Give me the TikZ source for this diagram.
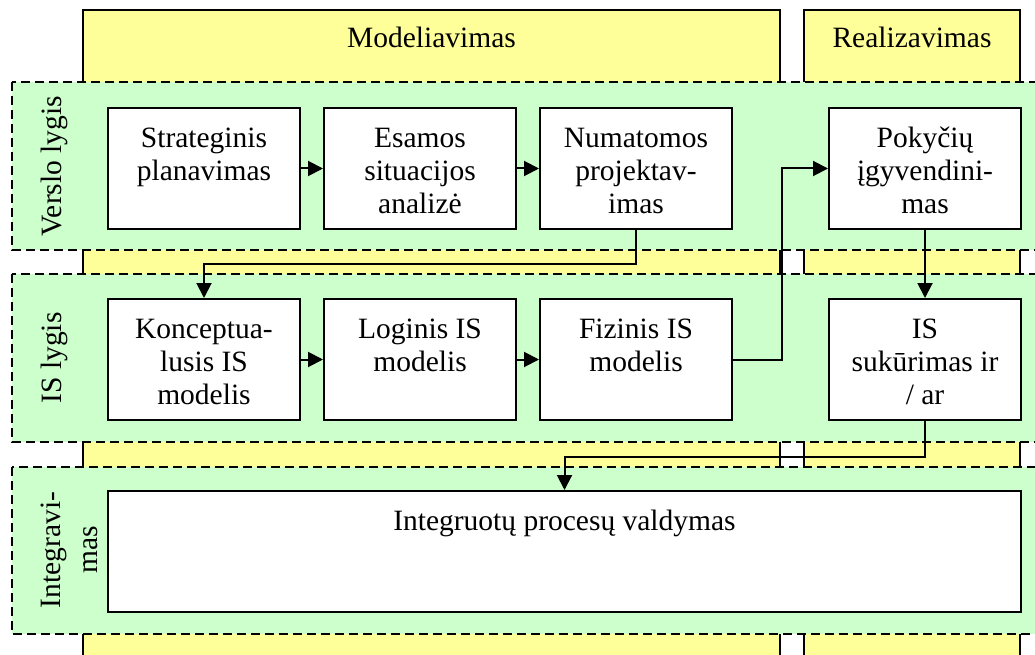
\documentclass[tikz,border=0pt]{standalone}
\usepackage{fontspec}
\setmainfont{Liberation Serif}
\usetikzlibrary{arrows.meta}
\definecolor{colyellow}{RGB}{255,255,153}
\definecolor{bandgreen}{RGB}{204,255,204}
\tikzset{
	column/.style={fill=colyellow, draw=black, line width=2pt},
	band/.style={fill=bandgreen, draw=black, line width=2pt, dash pattern=on 9pt off 5pt},
	stage/.style={draw, fill=white, line width=2pt, anchor=north west, inner sep=0pt, minimum width=192pt, minimum height=121pt},
	flow/.style={line width=2pt, -{Triangle[length=15pt,width=15pt]}},
	bandlabel/.style={rotate=90, align=center},
}
\newcommand{\stagetext}[2][192pt]{\parbox[t][121pt][t]{#1}{\centering\vspace*{16pt}\strut#2}}

\begin{document}
\begin{tikzpicture}[x=1pt,y=-1pt,font=\fontsize{29.5}{33}\selectfont]
				\useasboundingbox (0,0) rectangle (1035,655);
				% columns
				\draw[column] (83,662) -- (83,10) -- (780,10) -- (780,662);
				\draw[column] (804,662) -- (804,10) -- (1020,10) -- (1020,662);
				\node[anchor=base] (modtitle) at (431.5,48) {Modeliavimas};
				\node[anchor=base] (realtitle) at (912,48) {Realizavimas};
				% bands
				\draw[band] (12,82) rectangle (1050,250);
				\draw[band] (12,274) rectangle (1050,442);
				\draw[band] (12,467) rectangle (1050,634);
				\node[bandlabel, anchor=base] (verslolbl) at (61,166) {Verslo lygis};
				\node[bandlabel, anchor=base] (islbl) at (61,358) {IS lygis};
				\node[bandlabel, font=\fontsize{29.5}{37}\selectfont] (integlbl) at (69,550) {Integravi-\\mas};
				% stages
				\node[stage] (strat) at (107,107) {\stagetext{Strateginis\\planavimas}};
				\node[stage] (esam) at (323,107) {\stagetext{Esamos\\situacijos\\analizė}};
				\node[stage] (numat) at (539,107) {\stagetext{Numatomos\\projektav-\\imas}};
				\node[stage] (pokyc) at (828,107) {\stagetext{Pokyčių\\įgyvendini-\\mas}};
				\node[stage] (konc) at (107,298) {\stagetext{Konceptua-\\lusis IS\\modelis}};
				\node[stage] (login) at (323,298) {\stagetext{Loginis IS\\modelis}};
				\node[stage] (fiz) at (539,298) {\stagetext{Fizinis IS\\modelis}};
				\node[stage] (issuk) at (828,298) {\stagetext{IS\\sukūrimas ir\\/ ar}};
				\node[stage, minimum width=913pt] (integ) at (107,490) {\stagetext[913pt]{Integruotų procesų valdymas}};
				% flows
				\draw[flow] (strat.east) -- (esam.west);
				\draw[flow] (esam.east) -- (numat.west);
				\draw[flow] (numat.south) -- ++(0,34) -| (konc.north);
				\draw[flow] (konc.east) -- (login.west);
				\draw[flow] (login.east) -- (fiz.west);
				\draw[flow] (fiz.east) -- ++(49,0) |- (pokyc.west);
				\draw[flow] (pokyc.south) -- (issuk.north);
				\draw[flow] (issuk.south) -- ++(0,36) -| (integ.north);
\end{tikzpicture}
\end{document}
